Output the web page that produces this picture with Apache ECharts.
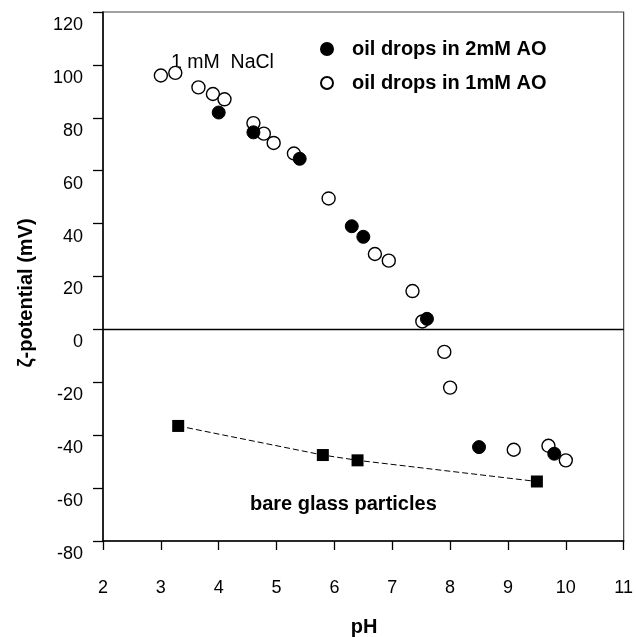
<!DOCTYPE html>
<html><head><meta charset="utf-8">
<script src="https://cdn.jsdelivr.net/npm/echarts@6/dist/echarts.min.js"></script>
<style>html,body{margin:0;padding:0;background:#fff}#c{width:636px;height:637px}</style>
</head><body><div id="c"></div>
<script>
// pH vs zeta potential data
const seriesNames = ['oil drops in 2mM AO', 'oil drops in 1mM AO', 'bare glass particles'];
const ao2mM = [[4.0,82],[4.6,74.5],[5.4,64.5],[6.3,39],[6.5,35],[7.6,4],[8.5,-44.5],[9.8,-47]];
const ao1mM = [[3.0,96],[3.25,97],[3.65,91.5],[3.9,89],[4.1,87],[4.6,78],[4.78,74],[4.95,70.5],[5.3,66.5],
               [5.9,49.5],[6.7,28.5],[6.94,26],[7.35,14.5],[7.52,3],[7.9,-8.5],[8.0,-22],[9.1,-45.5],[9.7,-44],[10.0,-49.5]];
const bareGlass = [[3.3,-36.5],[5.8,-47.5],[6.4,-49.5],[9.5,-57.5]];
const xRange = [2, 11];
const yRange = [-80, 120];
const xTitle = 'pH';
const yTitle = 'ζ-potential (mV)';
const noteNaCl = '1 mM  NaCl';
const noteGlass = 'bare glass particles';

const FONT = '"Liberation Sans", Arial, Helvetica, sans-serif';
const chart = echarts.init(document.getElementById('c'), null, {renderer: 'canvas'});
chart.setOption({
  animation: false,
  backgroundColor: '#fff',
  grid: {left: 103, right: 12, top: 12, bottom: 96, show: true, borderColor: '#444', borderWidth: 1.2, backgroundColor: 'transparent'},
  xAxis: {
    type: 'value', min: xRange[0], max: xRange[1], interval: 1,
    splitLine: {show: false},
    axisLine: {show: true, onZero: false, lineStyle: {color: '#000', width: 1.5}},
    axisTick: {show: true, inside: false, length: 9, lineStyle: {color: '#000', width: 1.3}},
    axisLabel: {color: '#000', fontFamily: FONT, fontSize: 18, margin: 38}
  },
  yAxis: {
    type: 'value', min: yRange[0], max: yRange[1], interval: 20,
    splitLine: {show: false},
    axisLine: {show: true, onZero: false, lineStyle: {color: '#000', width: 1.5}},
    axisTick: {show: true, inside: false, length: 10, lineStyle: {color: '#000', width: 1.3}},
    axisLabel: {color: '#000', fontFamily: FONT, fontSize: 18, margin: 20, verticalAlign: 'top', lineHeight: 26}
  },
  legend: {
    data: [seriesNames[0], seriesNames[1]],
    orient: 'vertical', left: 315, top: 33, itemWidth: 12, itemHeight: 12, itemGap: 12,
    textStyle: {color: '#000', fontFamily: FONT, fontSize: 20, fontWeight: 'bold', padding: [0, 0, 0, 14], lineHeight: 22}
  },
  graphic: [
    {type: 'text', x: 26, y: 293, rotation: Math.PI / 2,
     style: {text: yTitle, fill: '#000', font: 'bold 20px ' + FONT, textAlign: 'center', textVerticalAlign: 'middle'}},
    {type: 'text', x: 364, y: 627,
     style: {text: xTitle, fill: '#000', font: 'bold 20px ' + FONT, textAlign: 'center', textVerticalAlign: 'middle'}},
    {type: 'text', x: 171, y: 63,
     style: {text: noteNaCl, fill: '#000', font: '19.5px ' + FONT, textAlign: 'left', textVerticalAlign: 'middle'}},
    {type: 'text', x: 250, y: 504,
     style: {text: noteGlass, fill: '#000', font: 'bold 20px ' + FONT, textAlign: 'left', textVerticalAlign: 'middle'}}
  ],
  series: [
    {
      name: seriesNames[2], type: 'line', data: bareGlass, symbol: 'rect', symbolSize: 12,
      itemStyle: {color: '#000', opacity: 1}, lineStyle: {color: '#000', width: 1, type: [6, 3]},
      markLine: {silent: true, symbol: 'none', label: {show: false},
        lineStyle: {color: '#000', width: 1.3, type: 'solid'}, data: [{yAxis: 0}]},
      z: 3
    },
    {
      name: seriesNames[1], type: 'scatter', data: ao1mM, symbol: 'circle', symbolSize: 13,
      itemStyle: {color: '#fff', borderColor: '#000', borderWidth: 1.4, opacity: 1}, z: 4
    },
    {
      name: seriesNames[0], type: 'scatter', data: ao2mM, symbol: 'circle', symbolSize: 13,
      itemStyle: {color: '#000', borderColor: '#000', borderWidth: 1, opacity: 1}, z: 5
    }
  ]
});
</script>
</body></html>
